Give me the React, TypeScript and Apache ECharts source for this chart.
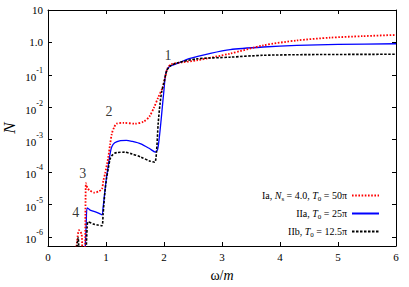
import React, { useEffect, useRef } from 'react';
import * as echarts from 'echarts';

const FONT = 'Liberation Serif, Times New Roman, DejaVu Serif, serif';

// Curve Ia (red dotted)
const xIa = [0.47, 0.50, 0.535, 0.58, 0.60, 0.635, 0.645, 0.655, 0.68, 0.72, 0.80, 0.87, 0.93, 0.955, 0.985, 1.04, 1.07, 1.10, 1.14, 1.18, 1.30, 1.50, 1.65, 1.75, 1.83, 1.90, 1.97, 2.02, 2.06, 2.12, 2.30, 2.56, 3.14, 3.71, 4.29, 4.86, 5.43, 6.0];
const nIa = [2e-7, 7e-7, 1.6e-6, 1.2e-6, 2e-7, 2e-7, 5e-6, 4.5e-5, 3.2e-5, 2.7e-5, 2.3e-5, 2.5e-5, 3.0e-5, 5.5e-5, 9e-5, 2.9e-4, 7e-4, 1.5e-3, 2.4e-3, 3.1e-3, 3.3e-3, 3.1e-3, 3.6e-3, 5.2e-3, 1.0e-2, 2.0e-2, 3.8e-2, 8.3e-2, 0.158, 0.21, 0.24, 0.278, 0.45, 0.81, 1.15, 1.40, 1.56, 1.70];

// Curve IIa (blue solid)
const xIIa = [0.635, 0.66, 0.675, 0.72, 0.78, 0.86, 0.93, 0.95, 0.98, 1.01, 1.04, 1.07, 1.10, 1.15, 1.25, 1.35, 1.45, 1.60, 1.75, 1.85, 1.89, 1.92, 1.95, 1.975, 2.0, 2.03, 2.08, 2.22, 2.45, 2.80, 3.14, 3.71, 4.29, 5.0, 6.0];
const nIIa = [2e-7, 3e-6, 7.8e-6, 6.8e-6, 6.2e-6, 5.5e-6, 4.8e-6, 8e-6, 2.5e-5, 7e-5, 1.6e-4, 3.6e-4, 6e-4, 8e-4, 9.3e-4, 9.5e-4, 8.8e-4, 7.4e-4, 5.3e-4, 4.1e-4, 5.0e-4, 1.2e-3, 4e-3, 1.2e-2, 0.035, 0.11, 0.17, 0.22, 0.32, 0.46, 0.60, 0.72, 0.81, 0.87, 0.91];

// Curve IIb (black dashed)
const xIIb = [0.48, 0.52, 0.555, 0.64, 0.655, 0.675, 0.69, 0.78, 0.86, 0.93, 0.95, 0.98, 1.01, 1.04, 1.07, 1.10, 1.15, 1.20, 1.32, 1.45, 1.60, 1.75, 1.84, 1.87, 1.90, 1.93, 1.96, 2.0, 2.05, 2.12, 2.22, 2.56, 3.14, 3.71, 4.5, 6.0];
const nIIb = [2e-7, 9.5e-7, 2e-7, 2e-7, 3e-7, 2e-6, 2.9e-6, 2.5e-6, 2.3e-6, 2.2e-6, 5e-6, 2.3e-5, 6.5e-5, 1.3e-4, 2.5e-4, 3.2e-4, 3.8e-4, 4.0e-4, 4.1e-4, 3.6e-4, 2.9e-4, 2.2e-4, 2.0e-4, 4e-4, 3.2e-3, 1.2e-2, 0.03, 0.058, 0.137, 0.195, 0.23, 0.31, 0.35, 0.40, 0.42, 0.43];

// Peak annotations
const peakText = ['1', '2', '3', '4'];
const peakX = [2.07, 1.05, 0.6, 0.48];
const peakN = [0.40, 7.6e-3, 8.9e-5, 5.8e-6];

const seriesNames = ['Ia, Ns = 4.0, T0 = 50π', 'IIa, T0 = 25π', 'IIb, T0 = 12.5π'];
const legendRichText: Record<string, string> = {
  'Ia, Ns = 4.0, T0 = 50π': 'Ia, {i|N}{sub|s} = 4.0, {i|T}{sub|0} = 50π',
  'IIa, T0 = 25π': 'IIa, {i|T}{sub|0} = 25π',
  'IIb, T0 = 12.5π': 'IIb, {i|T}{sub|0} = 12.5π',
};

const X_MIN = 0;
const X_MAX = 6;
const Y_MIN = 5.2e-7;
const Y_MAX = 10;

function pairs(xs: number[], ys: number[]) {
  return xs.map((x, i) => [x, ys[i]]);
}

export default function App() {
  const ref = useRef<HTMLDivElement>(null);
  useEffect(() => {
    if (!ref.current) return;
    const chart = echarts.init(ref.current, null, { renderer: 'svg' });
    const yFormatter = (v: number) => {
      const e = Math.log10(v);
      const r = Math.round(e);
      if (Math.abs(e - r) > 1e-6) return '';
      if (r === 1) return '10';
      if (r === 0) return '1.0';
      return `{b|10}{s|${r}}`;
    };
    const tickStyle = { show: true, inside: true, length: 4, lineStyle: { color: '#000', width: 1 } };
    const lineAxis = { show: true, onZero: false, lineStyle: { color: '#000', width: 1 } };
    chart.setOption({
      animation: false,
      backgroundColor: '#fff',
      textStyle: { fontFamily: FONT },
      grid: { left: 48, top: 10, width: 348, height: 236, containLabel: false, outerBoundsMode: 'none' },
      legend: {
        data: seriesNames,
        orient: 'vertical',
        right: 24,
        top: 184,
        align: 'right',
        itemWidth: 27,
        itemHeight: 1,
        itemGap: 5,
        itemStyle: { opacity: 0, borderWidth: 0 },
        formatter: (name: string) => legendRichText[name] || name,
        textStyle: {
          fontFamily: FONT,
          fontSize: 10,
          color: '#000',
          lineHeight: 13,
          rich: {
            i: { fontFamily: FONT, fontSize: 10, fontStyle: 'italic', color: '#000', lineHeight: 13 },
            sub: { fontFamily: FONT, fontSize: 7, color: '#000', lineHeight: 13, verticalAlign: 'bottom' },
          },
        },
      },
      xAxis: [
        {
          type: 'value',
          min: X_MIN,
          max: X_MAX,
          interval: 1,
          axisLine: lineAxis,
          axisTick: tickStyle,
          splitLine: { show: false },
          axisLabel: { color: '#000', fontFamily: FONT, fontSize: 11, margin: 5 },
          name: '{a|ω/}{i|m}',
          nameLocation: 'middle',
          nameGap: 22,
          nameMoveOverlap: false,
          nameTextStyle: {
            rich: {
              a: { fontFamily: FONT, fontSize: 14, color: '#000' },
              i: { fontFamily: FONT, fontSize: 14, fontStyle: 'italic', color: '#000' },
            },
          },
        },
        {
          type: 'value',
          position: 'top',
          min: X_MIN,
          max: X_MAX,
          interval: 1,
          axisLine: lineAxis,
          axisTick: tickStyle,
          splitLine: { show: false },
          axisLabel: { show: false },
        },
      ],
      yAxis: [
        {
          type: 'log',
          logBase: 10,
          min: Y_MIN,
          max: Y_MAX,
          axisLine: lineAxis,
          axisTick: tickStyle,
          minorTick: { show: false },
          splitLine: { show: false },
          axisLabel: {
            color: '#000',
            fontFamily: FONT,
            fontSize: 11,
            margin: 5,
            formatter: yFormatter,
            rich: {
              b: { fontFamily: FONT, fontSize: 11, color: '#000', lineHeight: 16, verticalAlign: 'bottom' },
              s: { fontFamily: FONT, fontSize: 8, color: '#000', lineHeight: 16, verticalAlign: 'top' },
            },
          },
          name: 'N',
          nameLocation: 'middle',
          nameGap: 30,
          nameMoveOverlap: false,
          nameRotate: 90,
          nameTextStyle: { fontFamily: FONT, fontSize: 17, fontStyle: 'italic', color: '#000' },
        },
        {
          type: 'log',
          logBase: 10,
          position: 'right',
          min: Y_MIN,
          max: Y_MAX,
          axisLine: lineAxis,
          axisTick: tickStyle,
          splitLine: { show: false },
          axisLabel: { show: false },
        },
      ],
      series: [
        {
          name: seriesNames[0],
          type: 'line',
          data: pairs(xIa, nIa),
          symbol: 'none',
          smooth: 0.25,
          lineStyle: { color: '#ff0000', width: 1.8, type: [1.6, 1.6] },
          itemStyle: { color: '#ff0000' },
          z: 3,
        },
        {
          name: seriesNames[1],
          type: 'line',
          data: pairs(xIIa, nIIa),
          symbol: 'none',
          smooth: 0.25,
          lineStyle: { color: '#0000ff', width: 1.3, type: 'solid' },
          itemStyle: { color: '#0000ff' },
          z: 2,
        },
        {
          name: seriesNames[2],
          type: 'line',
          data: pairs(xIIb, nIIb),
          symbol: 'none',
          smooth: 0.25,
          lineStyle: { color: '#000000', width: 1.6, type: [2.5, 1.5] },
          itemStyle: { color: '#000000' },
          z: 4,
        },
        {
          name: 'labels',
          type: 'scatter',
          silent: true,
          symbolSize: 0,
          data: peakText.map((t, i) => ({ value: [peakX[i], peakN[i]], name: t })),
          label: {
            show: true,
            position: 'inside',
            formatter: (p: any) => p.name,
            fontFamily: FONT,
            fontSize: 14,
            color: '#000',
          },
          z: 5,
        },
      ],
    });
    return () => chart.dispose();
  }, []);
  return <div ref={ref} style={{ width: 409, height: 287, position: 'absolute', left: 0, top: 0 }} />;
}
